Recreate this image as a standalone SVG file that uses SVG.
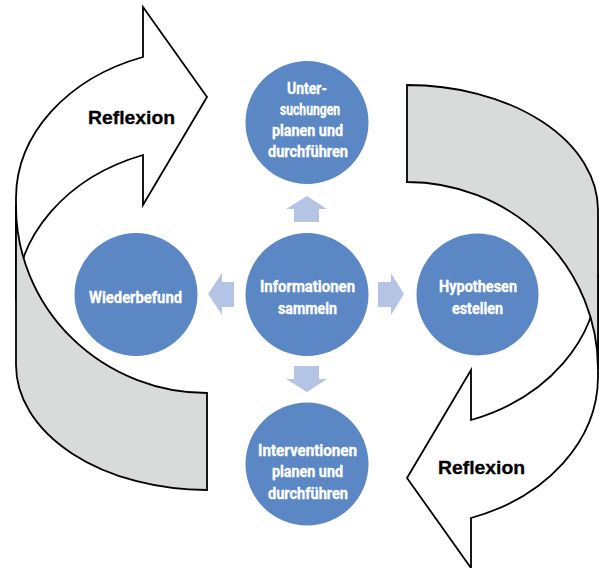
<svg xmlns="http://www.w3.org/2000/svg" xmlns:xlink="http://www.w3.org/1999/xlink" width="599" height="568" viewBox="0 0 599 568">
  <style>
    .front { fill: #ffffff; stroke: #000000; stroke-width: 1.8; stroke-linejoin: miter; }
    .back { fill: #d9dbda; stroke: #000000; stroke-width: 1.8; stroke-linejoin: miter; }
    .node { fill: #5b87c5; }
    .conn { fill: #b4c4e4; }
    .lbl { font-family: Roboto, "Liberation Sans", sans-serif; font-weight: bold; font-size: 16.5px; fill: #ffffff; stroke: #ffffff; stroke-width: 0.35; text-anchor: middle; }
    .refl { font-family: "Liberation Sans", Arial, sans-serif; font-weight: bold; font-size: 18.5px; fill: #000000; stroke: #000000; stroke-width: 0.3; text-anchor: middle; }
  </style>
  <defs>
    <g id="curvedArrow">
      <path class="front" d="M143,57 L143,7 L207,97 L143,205 L143,155 A191,155 0 0 0 16,301 L16,198 A191,150 0 0 1 143,57 Z"/>
      <path class="back" d="M207,393 A191,187 0 0 1 16,206 L16,365 A191,125 0 0 0 207,490 Z"/>
    </g>
  </defs>
  <rect width="599" height="568" fill="#ffffff"/>

  <g id="reflexion-left">
    <use xlink:href="#curvedArrow" href="#curvedArrow"/>
    <text class="refl" x="131.5" y="124" textLength="87" lengthAdjust="spacingAndGlyphs">Reflexion</text>
  </g>
  <g id="reflexion-right">
    <use xlink:href="#curvedArrow" href="#curvedArrow" transform="rotate(180 307 287.5)"/>
    <text class="refl" x="481.5" y="474" textLength="87" lengthAdjust="spacingAndGlyphs">Reflexion</text>
  </g>

  <g id="connectors">
    <polygon class="conn" points="307,196 327,209 319,209 319,222 294,222 294,209 286,209"/>
    <polygon class="conn" points="294,366 319,366 319,379 327,379 307,392 286,379 294,379"/>
    <polygon class="conn" points="208,294 222,273 222,282 234,282 234,307 222,307 222,315"/>
    <polygon class="conn" points="378,282 391,282 391,273 404,294 391,315 391,307 378,307"/>
  </g>

  <g id="node-informationen">
    <circle class="node" cx="307" cy="294.5" r="61.5"/>
    <text class="lbl" x="307.5" y="292" textLength="95" lengthAdjust="spacingAndGlyphs">Informationen</text>
    <text class="lbl" x="307.5" y="313.5" textLength="59" lengthAdjust="spacingAndGlyphs">sammeln</text>
  </g>
  <g id="node-untersuchungen">
    <circle class="node" cx="307" cy="122.5" r="61.5"/>
    <text class="lbl" x="307" y="94" textLength="40" lengthAdjust="spacingAndGlyphs">Unter-</text>
    <text class="lbl" x="310" y="115" textLength="60" lengthAdjust="spacingAndGlyphs">suchungen</text>
    <text class="lbl" x="307.5" y="136" textLength="71" lengthAdjust="spacingAndGlyphs">planen und</text>
    <text class="lbl" x="308" y="157" textLength="80" lengthAdjust="spacingAndGlyphs">durchführen</text>
  </g>
  <g id="node-hypothesen">
    <circle class="node" cx="477.5" cy="294.5" r="61"/>
    <text class="lbl" x="478" y="292" textLength="78" lengthAdjust="spacingAndGlyphs">Hypothesen</text>
    <text class="lbl" x="477.5" y="313.5" textLength="51" lengthAdjust="spacingAndGlyphs">estellen</text>
  </g>
  <g id="node-wiederbefund">
    <circle class="node" cx="136" cy="294.5" r="61.5"/>
    <text class="lbl" x="135.5" y="302.5" textLength="93" lengthAdjust="spacingAndGlyphs">Wiederbefund</text>
  </g>
  <g id="node-interventionen">
    <circle class="node" cx="307" cy="464" r="61.5"/>
    <text class="lbl" x="307.5" y="455.5" textLength="99" lengthAdjust="spacingAndGlyphs">Interventionen</text>
    <text class="lbl" x="307.5" y="477" textLength="71" lengthAdjust="spacingAndGlyphs">planen und</text>
    <text class="lbl" x="308" y="498.5" textLength="80" lengthAdjust="spacingAndGlyphs">durchführen</text>
  </g>
</svg>
